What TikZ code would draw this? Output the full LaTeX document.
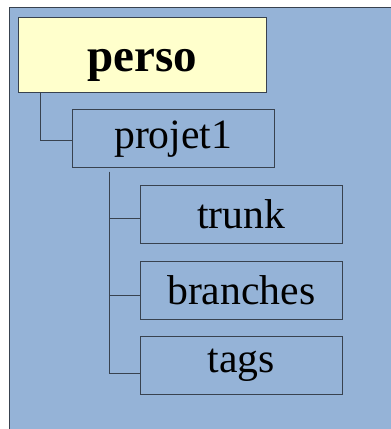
\documentclass[tikz,border=0pt]{standalone}
\usepackage{fontspec}
\setmainfont{Liberation Serif}
\usepackage{tikz}
\definecolor{fondbleu}{HTML}{95B3D7}
\definecolor{jaunepale}{HTML}{FFFFCC}
\definecolor{bordgris}{HTML}{38424F}
\tikzstyle{dossier} = [draw=bordgris, fill=fondbleu, line width=1.1pt,
    rectangle, minimum width=202pt, minimum height=58pt, inner sep=0pt,
    font=\fontsize{41.7}{46}\selectfont]
\tikzstyle{racine} = [dossier, fill=jaunepale, minimum width=248pt,
    minimum height=75pt, text height=34pt, text depth=0pt,
    font=\fontsize{47}{52}\selectfont\bfseries]
\tikzstyle{lien} = [draw=bordgris, line width=1pt]

\begin{document}
\begin{tikzpicture}[x=1pt,y=1pt]
                \useasboundingbox (0,0) rectangle (391,-429);
                \clip (0,0) rectangle (391,-429);
                \draw[bordgris, fill=fondbleu, line width=1pt] (9.7,-7.3) rectangle (400,-440);
                \node [racine] (perso) at (142.5,-54.8) {perso};
                \node [dossier] (projet1) at (173.3,-138.7) {projet1};
                \node [dossier] (trunk) at (241.3,-214.3) {trunk};
                \node [dossier] (branches) at (241.3,-290.2) {branches};
                \node [dossier] (tags) at (241.3,-365.7) {tags};
                \draw [lien] ([xshift=23pt]perso.south west) |- ([yshift=-2pt]projet1.west);
                \draw [lien] ([xshift=37.4pt,yshift=-3.5pt]projet1.south west) |- ([yshift=-4pt]trunk.west);
                \draw [lien] ([xshift=37.4pt,yshift=-3.5pt]projet1.south west) |- ([yshift=-5.5pt]branches.west);
                \draw [lien] ([xshift=37.4pt,yshift=-3.5pt]projet1.south west) |- ([yshift=-8pt]tags.west);
            \end{tikzpicture}
\end{document}
